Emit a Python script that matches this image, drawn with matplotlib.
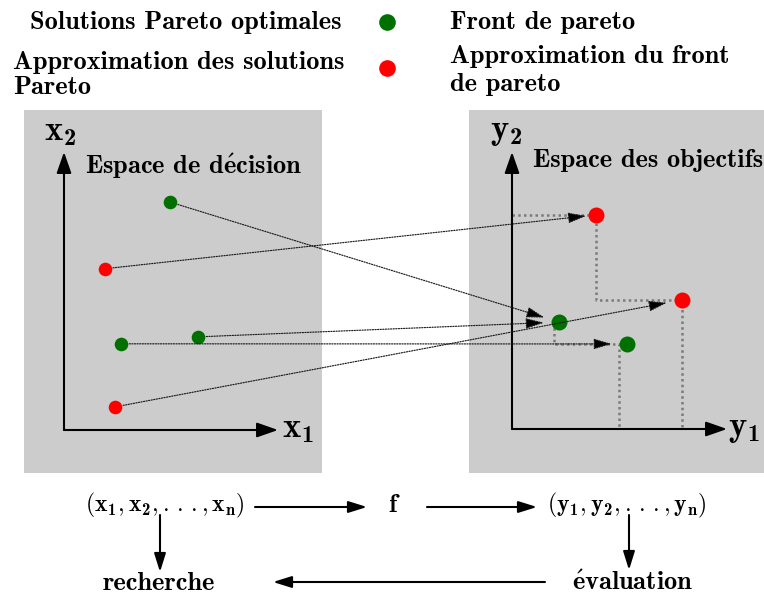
import matplotlib.pyplot as plt
from matplotlib.patches import Rectangle, ConnectionPatch

plt.rcParams['mathtext.fontset'] = 'custom'
plt.rcParams['mathtext.rm'] = 'cmr10'
plt.rcParams['mathtext.bf'] = 'cmb10'
plt.rcParams['mathtext.it'] = 'cmmi10'
plt.rcParams['mathtext.fallback'] = 'cm'
POLICE = ['cmb10', 'DejaVu Serif']

VERT = '#007000'
ROUGE = '#ff0000'
GRIS = '#cccccc'

# espace de décision (x1, x2)
dec_vert_x1 = [4.95, 6.26, 2.66]
dec_vert_x2 = [8.2, 3.35, 3.1]
dec_rouge_x1 = [1.9, 2.38]
dec_rouge_x2 = [5.8, 0.83]

# espace des objectifs (y1, y2)
obj_vert_y1 = [2.19, 5.35]
obj_vert_y2 = [3.86, 3.07]
obj_rouge_y1 = [3.9, 7.9]
obj_rouge_y2 = [7.73, 4.66]

# correspondances f : (indice décision, indice objectif)
liens_verts = [(0, 0), (1, 0), (2, 1)]
liens_rouges = [(0, 0), (1, 1)]

# fronts en escalier
front_rouge_y1 = [0, 3.9, 3.9, 7.9, 7.9]
front_rouge_y2 = [7.73, 7.73, 4.66, 4.66, 0]
front_vert_y1 = [1.95, 1.95, 4.98, 4.98]
front_vert_y2 = [3.86, 3.07, 3.07, 0]

W, H = 764, 594
fig = plt.figure(figsize=(W / 100, H / 100), dpi=100)
ax = fig.add_axes([0, 0, 1, 1])
ax.set_xlim(0, W)
ax.set_ylim(H, 0)
ax.axis('off')

# fonds gris
ax.add_patch(Rectangle((24, 110), 298, 363, color=GRIS, lw=0))
ax.add_patch(Rectangle((469, 110), 295, 363, color=GRIS, lw=0))


def panneau(x0, y0, x1, y1):
    a = fig.add_axes([x0 / W, (H - y0) / H, (x1 - x0) / W, (y0 - y1) / H])
    a.set_xlim(0, 10)
    a.set_ylim(0, 10)
    a.axis('off')
    a.patch.set_alpha(0)
    fleche = dict(arrowstyle='-|>,head_length=0.8,head_width=0.28', mutation_scale=16,
                  lw=1.5, color='k', shrinkA=0, shrinkB=0)
    a.annotate('', xy=(10, 0), xytext=(0, 0), arrowprops=fleche, annotation_clip=False)
    a.annotate('', xy=(0, 10), xytext=(0, 0), arrowprops=fleche, annotation_clip=False)
    return a


ax_dec = panneau(64, 430, 278, 152)
ax_obj = panneau(512, 429, 727, 152)

# lignes en escalier (fronts)
pointille = dict(color='#7a7a7a', lw=1.8, linestyle=(0, (1, 1.3)), clip_on=False)
ax_obj.plot(front_rouge_y1, front_rouge_y2, **pointille)
ax_obj.plot(front_vert_y1, front_vert_y2, **pointille)


# flèches de correspondance
def relier(xa, ya, xb, yb, retrait):
    con = ConnectionPatch(xyA=(xa, ya), coordsA=ax_dec.transData,
                          xyB=(xb, yb), coordsB=ax_obj.transData,
                          arrowstyle='-|>,head_length=0.85,head_width=0.25', mutation_scale=13,
                          linestyle=(0, (1, 1.2)), lw=0.85, color='#1a1a1a', fc='k',
                          shrinkA=6, shrinkB=retrait)
    fig.add_artist(con)


for i, j in liens_verts:
    relier(dec_vert_x1[i], dec_vert_x2[i], obj_vert_y1[j], obj_vert_y2[j], 11)
for i, j in liens_rouges:
    relier(dec_rouge_x1[i], dec_rouge_x2[i], obj_rouge_y1[j], obj_rouge_y2[j], 7 if j == 0 else 11)

ax_dec.plot(dec_vert_x1, dec_vert_x2, 'o', color=VERT, ms=9.8, mew=0, clip_on=False)
ax_dec.plot(dec_rouge_x1, dec_rouge_x2, 'o', color=ROUGE, ms=9.8, mew=0, clip_on=False)
ax_obj.plot(obj_vert_y1, obj_vert_y2, 'o', color=VERT, ms=11.5, mew=0, clip_on=False, zorder=5)
ax_obj.plot(obj_rouge_y1, obj_rouge_y2, 'o', color=ROUGE, ms=11.5, mew=0, clip_on=False, zorder=5)

# étiquettes des axes
for x, y, s in [(60, 131, r'$\mathbf{x}_\mathbf{2}$'), (298, 428, r'$\mathbf{x}_\mathbf{1}$'),
                (506, 131, r'$\mathbf{y}_\mathbf{2}$'), (744, 428, r'$\mathbf{y}_\mathbf{1}$')]:
    ax.text(x, y, s, fontsize=25, ha='center', va='center')

E = r'$\mathbf{\acute{e}}$'
T = dict(family=POLICE, fontsize=19, va='center')
ax.text(85, 166, 'Espace de d' + E + 'cision', **T)
ax.text(533, 161, 'Espace des objectifs', **T)

# légende
ax.text(342, 22, 'Solutions Pareto optimales', ha='right', **T)
ax.text(13, 62, 'Approximation des solutions', **T)
ax.text(13, 88, 'Pareto', **T)
ax.plot([387], [22], 'o', color=VERT, ms=12, mew=0)
ax.plot([387], [68], 'o', color=ROUGE, ms=12, mew=0)
ax.text(450, 22, 'Front de pareto', **T)
ax.text(450, 57, 'Approximation du front', **T)
ax.text(450, 85, 'de pareto', **T)

# schéma du bas
ax.text(165, 505, r'$(\mathbf{x}_\mathbf{1}, \mathbf{x}_\mathbf{2}, .\,.\,., \mathbf{x}_\mathbf{n})$',
        fontsize=17, ha='center', va='center')
ax.text(392, 505, 'f', ha='center', **T)
ax.text(627, 505, r'$(\mathbf{y}_\mathbf{1}, \mathbf{y}_\mathbf{2}, .\,.\,., \mathbf{y}_\mathbf{n})$',
        fontsize=17, ha='center', va='center')
ax.text(159, 583, 'recherche', ha='center', **T)
ax.text(633, 583, E + 'valuation', ha='center', **T)

fl = dict(arrowstyle='-|>,head_length=0.8,head_width=0.25', mutation_scale=14,
          lw=1.5, color='k', shrinkA=0, shrinkB=0)
ax.annotate('', xy=(367, 507), xytext=(255, 507), arrowprops=fl)
ax.annotate('', xy=(537, 507), xytext=(427, 507), arrowprops=fl)
ax.annotate('', xy=(160, 572), xytext=(160, 515), arrowprops=fl)
ax.annotate('', xy=(629, 570), xytext=(629, 515), arrowprops=fl)
ax.annotate('', xy=(273, 582), xytext=(545, 582), arrowprops=fl)

fig.savefig('out.png', dpi=100)
